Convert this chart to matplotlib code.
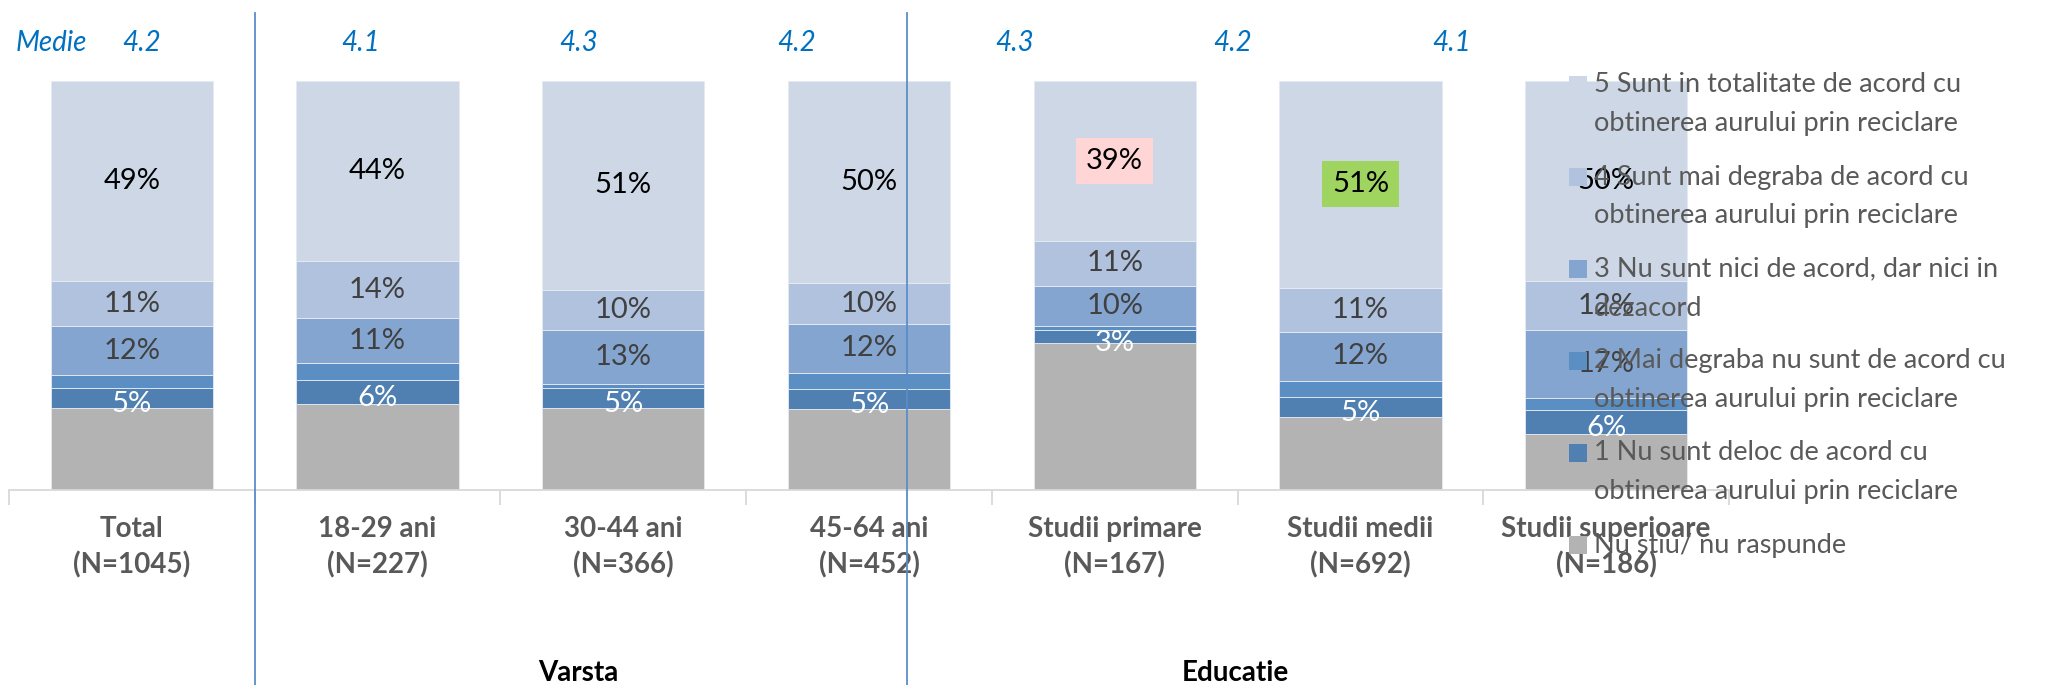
import matplotlib.pyplot as plt
from matplotlib.patches import Rectangle
from matplotlib.lines import Line2D
import numpy as np

plt.rcParams['font.family'] = ['Lato', 'DejaVu Sans']

# categories on the x axis
categories = ['Total\n(N=1045)', '18-29 ani\n(N=227)', '30-44 ani\n(N=366)',
              '45-64 ani\n(N=452)', 'Studii primare\n(N=167)',
              'Studii medii\n(N=692)', 'Studii superioare\n(N=186)']

# answer shares (%), per category
s5 = [49, 44, 51, 50, 39, 51, 50]
s4 = [11, 14, 10, 10, 11, 11, 12]
s3 = [12, 11, 13, 12, 10, 12, 17]
s2 = [3, 4, 1, 4, 1, 4, 3]
s1 = [5, 6, 5, 5, 3, 5, 6]
ns = [20, 21, 20, 20, 36, 18, 14]

# mean score per category
medie = [4.2, 4.1, 4.3, 4.2, 4.3, 4.2, 4.1]

legend_labels = [
    '5 Sunt in totalitate de acord cu\nobtinerea aurului prin reciclare',
    '4 Sunt mai degraba de acord cu\nobtinerea aurului prin reciclare',
    '3 Nu sunt nici de acord, dar nici in\ndezacord',
    '2 Mai degraba nu sunt de acord cu\nobtinerea aurului prin reciclare',
    '1 Nu sunt deloc de acord cu\nobtinerea aurului prin reciclare',
    'Nu stiu/ nu raspunde',
]

W, H = 2049, 685
fig = plt.figure(figsize=(W / 100, H / 100), dpi=100)
ax = fig.add_axes([9 / W, (H - 490) / H, 1720 / W, 409 / H])

# stacking order bottom -> top
series = [ns, s1, s2, s3, s4, s5]
colors = ['#b3b3b3', '#4f80b1', '#5b8ec2', '#84a5cf', '#b0c2dd', '#cdd7e6']
label_colors = [None, 'white', None, '#404040', '#404040', 'black']
highlight = {(5, 4): '#ffd5d5', (5, 5): '#a0d460'}

x = np.arange(len(categories))
totals = np.sum(series, axis=0)
bottom = np.zeros(len(categories))
for si, (vals, col) in enumerate(zip(series, colors)):
    h = np.array(vals) / totals * 100
    ax.bar(x, h, 0.66, bottom=bottom, color=col, edgecolor='#e6ebf2', linewidth=0.6)
    if label_colors[si]:
        for i, v in enumerate(vals):
            box = None
            if (si, i) in highlight:
                box = dict(boxstyle='square,pad=0.35', fc=highlight[(si, i)], ec='none')
            yoff = -1.5 if si == 1 else 0
            ax.text(i, bottom[i] + h[i] / 2 + yoff, f'{v}%', ha='center', va='center',
                    fontsize=21, color=label_colors[si], bbox=box)
    bottom += h

ax.set_xlim(-0.5, 6.5)
ax.set_ylim(0, 100)
for s in ['top', 'left', 'right']:
    ax.spines[s].set_visible(False)
ax.spines['bottom'].set_color('#d9d9d9')
ax.spines['bottom'].set_linewidth(1.3)
ax.yaxis.set_visible(False)
ax.set_xticks(x)
ax.set_xticklabels(categories, fontsize=20, fontweight='bold', color='#595959',
                   linespacing=1.4)
ax.tick_params(axis='x', which='major', length=0, pad=19)
ax.set_xticks(np.arange(-0.5, 7, 1), minor=True)
ax.tick_params(axis='x', which='minor', length=11, color='#d9d9d9', width=1.3)

# mean row
fig.text(16 / W, 1 - 43 / H, 'Medie', fontsize=20, style='italic', color='#0070c0',
         ha='left', va='center')
for i, m in enumerate(medie):
    fig.text((142 + 218.2 * i) / W, 1 - 43 / H, f'{m:.1f}', fontsize=20, style='italic',
             color='#0070c0', ha='center', va='center')

# group separators
for xs in [255, 907]:
    fig.add_artist(Line2D([xs / W, xs / W], [1 - 13 / H, 0], color='#5b8ec8', lw=1.3))

fig.text(578 / W, 1 - 673 / H, 'Varsta', fontsize=20, fontweight='bold', ha='center', va='center')
fig.text(1235 / W, 1 - 673 / H, 'Educatie', fontsize=20, fontweight='bold', ha='center', va='center')

# legend, top entry = highest answer
for k, (lab, col) in enumerate(zip(legend_labels, colors[::-1])):
    yc = 85 + 92 * k
    fig.add_artist(Rectangle((1569 / W, 1 - (yc + 9) / H), 18 / W, 18 / H,
                             transform=fig.transFigure, fc=col, ec='none'))
    for j, line in enumerate(lab.split('\n')):
        fig.text(1594 / W, 1 - (yc + 39 * j) / H, line, fontsize=19.5, color='#595959',
                 ha='left', va='center')

fig.savefig('out.png', dpi=100)
